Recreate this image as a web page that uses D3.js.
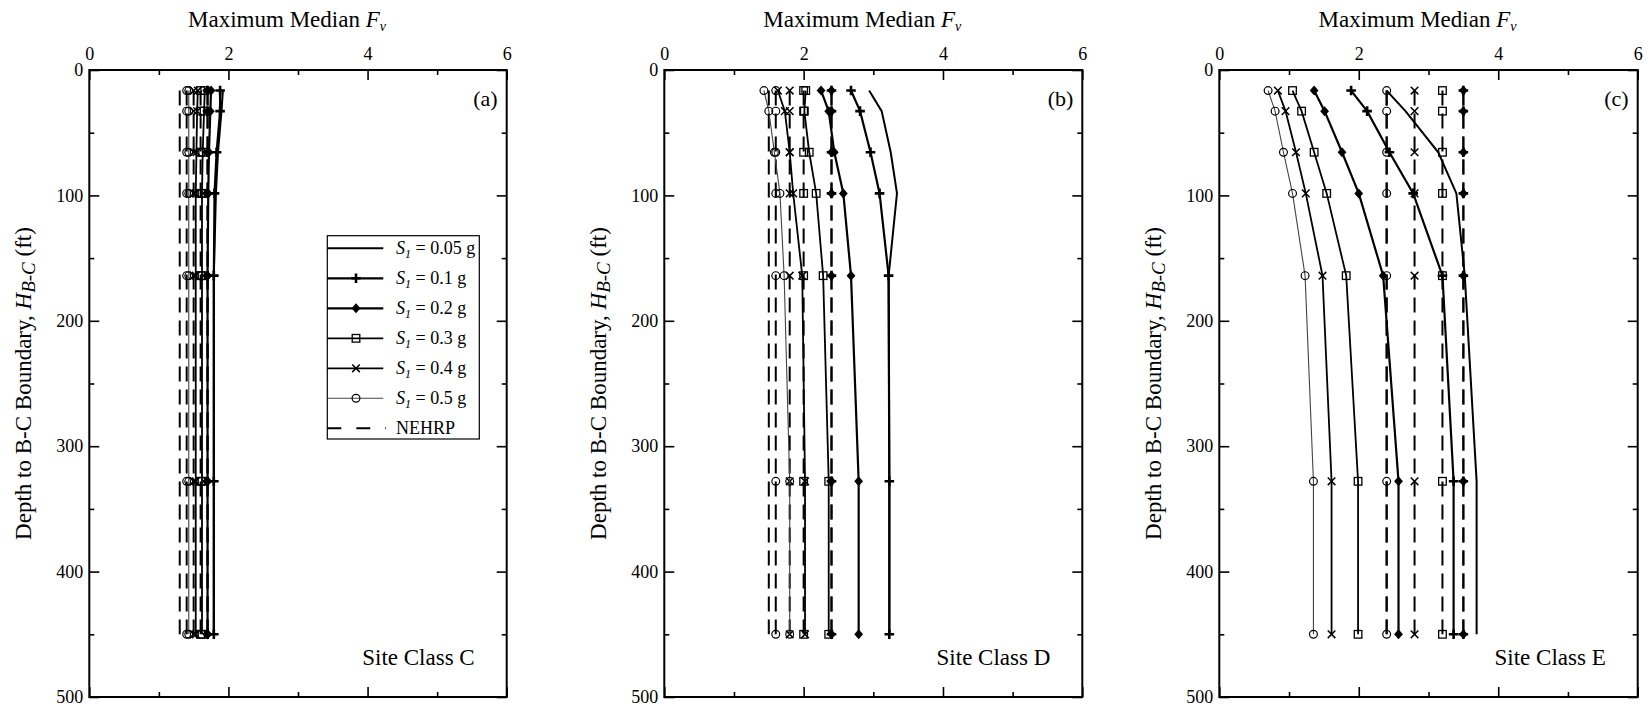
<!DOCTYPE html>
<html><head><meta charset="utf-8">
<script src="https://cdn.jsdelivr.net/npm/d3@7"></script>
<style>
body{margin:0;background:#fff}
svg{display:block}
text{font-family:"Liberation Serif","Times New Roman",serif;fill:#000}
</style>
</head><body>
<svg id="chart" width="1648" height="711"></svg>
<script>
// ---------- data ----------
const depths = [16.4, 32.8, 65.6, 98.4, 164, 328, 450];
const s1Labels = ["0.05", "0.1", "0.2", "0.3", "0.4", "0.5"];
const xTicks = [0, 2, 4, 6];
const xMinorTicks = [1, 3, 5];
const yTicks = [0, 100, 200, 300, 400, 500];
const yMinorTicks = [50, 150, 250, 350, 450];
const panelLetters = ["(a)", "(b)", "(c)"];
const siteClasses = ["Site Class C", "Site Class D", "Site Class E"];

// Site Class C
const fvC_005 = [1.92, 1.90, 1.85, 1.82, 1.79, 1.79, 1.79];
const fvC_01  = [1.88, 1.88, 1.83, 1.80, 1.79, 1.79, 1.79];
const fvC_02  = [1.75, 1.74, 1.72, 1.71, 1.70, 1.70, 1.70];
const fvC_03  = [1.66, 1.65, 1.63, 1.62, 1.62, 1.62, 1.62];
const fvC_04  = [1.56, 1.55, 1.54, 1.53, 1.53, 1.53, 1.53];
const fvC_05  = [1.43, 1.43, 1.43, 1.43, 1.43, 1.43, 1.43];
const nehrpC  = [1.3, 1.7, 1.7, 1.6, 1.5, 1.4];

// Site Class D
const fvD_005 = [2.94, 3.12, 3.25, 3.34, 3.22, 3.23, 3.23];
const fvD_01  = [2.68, 2.81, 2.96, 3.09, 3.22, 3.23, 3.23];
const fvD_02  = [2.25, 2.36, 2.44, 2.57, 2.68, 2.79, 2.79];
const fvD_03  = [2.03, 2.01, 2.08, 2.18, 2.28, 2.36, 2.36];
const fvD_04  = [1.63, 1.73, 1.80, 1.85, 1.98, 2.02, 2.02];
const fvD_05  = [1.43, 1.50, 1.58, 1.66, 1.72, 1.80, 1.80];
const nehrpD  = [1.5, 2.4, 2.4, 2.0, 1.8, 1.6];

// Site Class E
const fvE_005 = [2.40, 2.67, 3.14, 3.40, 3.52, 3.69, 3.69];
const fvE_01  = [1.89, 2.12, 2.44, 2.78, 3.20, 3.36, 3.36];
const fvE_02  = [1.36, 1.51, 1.76, 2.00, 2.35, 2.57, 2.57];
const fvE_03  = [1.05, 1.18, 1.36, 1.54, 1.82, 1.99, 1.99];
const fvE_04  = [0.84, 0.95, 1.10, 1.24, 1.48, 1.61, 1.61];
const fvE_05  = [0.70, 0.80, 0.92, 1.05, 1.23, 1.35, 1.35];
const nehrpE  = [2.4, 3.5, 3.5, 3.2, 2.8, 2.4];

const panelSeries = [
  [fvC_005, fvC_01, fvC_02, fvC_03, fvC_04, fvC_05],
  [fvD_005, fvD_01, fvD_02, fvD_03, fvD_04, fvD_05],
  [fvE_005, fvE_01, fvE_02, fvE_03, fvE_04, fvE_05]
];
const panelNehrp = [nehrpC, nehrpD, nehrpE];

// ---------- layout / styles ----------
const panelX = [[89.3, 506.7], [664.3, 1082.3], [1219.3, 1637.7]];
const yTop = 70, yBot = 697;
const styles = [
  {w: 2.0, c: "#000", m: null},
  {w: 2.2, c: "#000", m: "plus"},
  {w: 2.2, c: "#000", m: "diamond"},
  {w: 1.8, c: "#000", m: "square"},
  {w: 1.8, c: "#000", m: "cross"},
  {w: 1.1, c: "#444", m: "circle"}
];

const svg = d3.select("#chart");

function drawMarker(g, type, cx, cy) {
  if (!type) return;
  const t = `translate(${cx},${cy})`;
  if (type === "plus") {
    g.append("path").attr("transform", t)
      .attr("d", "M-1.3,-4.8h2.6v3.5h3.5v2.6h-3.5v3.5h-2.6v-3.5h-3.5v-2.6h3.5z")
      .attr("fill", "#000");
  } else if (type === "diamond") {
    g.append("path").attr("transform", t)
      .attr("d", "M0,-5L4.4,0L0,5L-4.4,0Z").attr("fill", "#000");
  } else if (type === "square") {
    g.append("rect").attr("transform", t)
      .attr("x", -3.8).attr("y", -3.8).attr("width", 7.6).attr("height", 7.6)
      .attr("fill", "none").attr("stroke", "#000").attr("stroke-width", 1.3);
  } else if (type === "cross") {
    g.append("path").attr("transform", t)
      .attr("d", "M-3.8,-3.8L3.8,3.8M-3.8,3.8L3.8,-3.8")
      .attr("fill", "none").attr("stroke", "#000").attr("stroke-width", 1.5);
  } else if (type === "circle") {
    g.append("circle").attr("transform", t).attr("r", 3.9)
      .attr("fill", "none").attr("stroke", "#000").attr("stroke-width", 1.2);
  }
}

panelX.forEach(([x0, x1], p) => {
  const x = d3.scaleLinear().domain([0, 6]).range([x0, x1]);
  const y = d3.scaleLinear().domain([0, 500]).range([yTop, yBot]);
  const g = svg.append("g");

  // axes
  const styleAxis = sel => {
    sel.select(".domain").remove();
    sel.selectAll("line").attr("stroke", "#000").attr("stroke-width", 1.6);
    sel.selectAll("text").attr("font-size", 18)
      .attr("font-family", '"Liberation Serif","Times New Roman",serif').attr("fill", "#000");
  };
  g.append("g").attr("transform", `translate(0,${yTop})`)
    .call(d3.axisTop(x).tickValues(xTicks).tickSizeInner(-10).tickSizeOuter(0).tickPadding(10.5).tickFormat(d3.format("d")))
    .call(styleAxis);
  g.append("g").attr("transform", `translate(0,${yTop})`)
    .call(d3.axisTop(x).tickValues(xMinorTicks).tickSizeInner(-5).tickSizeOuter(0).tickFormat(""))
    .call(styleAxis);
  g.append("g").attr("transform", `translate(0,${yBot})`)
    .call(d3.axisBottom(x).tickValues(xTicks).tickSizeInner(-10).tickSizeOuter(0).tickFormat(""))
    .call(styleAxis);
  g.append("g").attr("transform", `translate(0,${yBot})`)
    .call(d3.axisBottom(x).tickValues(xMinorTicks).tickSizeInner(-5).tickSizeOuter(0).tickFormat(""))
    .call(styleAxis);
  g.append("g").attr("transform", `translate(${x0},0)`)
    .call(d3.axisLeft(y).tickValues(yTicks).tickSizeInner(-10).tickSizeOuter(0).tickPadding(6).tickFormat(d3.format("d")))
    .call(styleAxis);
  g.append("g").attr("transform", `translate(${x0},0)`)
    .call(d3.axisLeft(y).tickValues(yMinorTicks).tickSizeInner(-5).tickSizeOuter(0).tickFormat(""))
    .call(styleAxis);
  g.append("g").attr("transform", `translate(${x1},0)`)
    .call(d3.axisRight(y).tickValues(yTicks).tickSizeInner(-10).tickSizeOuter(0).tickFormat(""))
    .call(styleAxis);
  g.append("g").attr("transform", `translate(${x1},0)`)
    .call(d3.axisRight(y).tickValues(yMinorTicks).tickSizeInner(-5).tickSizeOuter(0).tickFormat(""))
    .call(styleAxis);

  // frame
  g.append("rect").attr("x", x0).attr("y", yTop).attr("width", x1 - x0).attr("height", yBot - yTop)
    .attr("fill", "none").attr("stroke", "#000").attr("stroke-width", 2);

  // NEHRP dashed lines
  const nehrp = panelNehrp[p];
  nehrp.forEach((v, i) => {
    g.append("line").attr("x1", x(v)).attr("x2", x(v))
      .attr("y1", y(depths[0])).attr("y2", y(depths[depths.length - 1]))
      .attr("stroke", "#000").attr("stroke-width", 2).attr("stroke-dasharray", "15,8");
    depths.forEach(d => drawMarker(g, styles[i].m, x(v), y(d)));
  });

  // solid series
  const line = d3.line().x(d => x(d.v)).y(d => y(d.d));
  panelSeries[p].forEach((vals, i) => {
    const pts = vals.map((v, k) => ({v, d: depths[k]}));
    g.append("path").datum(pts).attr("d", line)
      .attr("fill", "none").attr("stroke", styles[i].c).attr("stroke-width", styles[i].w)
      .attr("stroke-linejoin", "miter");
    pts.forEach(pt => drawMarker(g, styles[i].m, x(pt.v), y(pt.d)));
  });

  // x title
  const cx = (x0 + x1) / 2 - 11;
  const xt = g.append("text").attr("x", cx).attr("y", 27).attr("text-anchor", "middle").attr("font-size", 23);
  xt.append("tspan").text("Maximum Median ");
  xt.append("tspan").attr("font-style", "italic").text("F");
  xt.append("tspan").attr("font-style", "italic").attr("font-size", 14).attr("dy", 4).text("v");

  // y title
  const yt = g.append("text")
    .attr("transform", `translate(${x0 - 58},${(yTop + yBot) / 2}) rotate(-90)`)
    .attr("text-anchor", "middle").attr("font-size", 23);
  yt.append("tspan").text("Depth to B-C Boundary, ");
  yt.append("tspan").attr("font-style", "italic").text("H");
  yt.append("tspan").attr("font-style", "italic").attr("font-size", 19).attr("dy", 4).text("B-C");
  yt.append("tspan").attr("dy", -4).text(" (ft)");

  // panel letter and site class
  g.append("text").attr("x", x1 - 9).attr("y", 106).attr("text-anchor", "end").attr("font-size", 22)
    .text(panelLetters[p]);
  g.append("text").attr("x", x1 - 32).attr("y", 665).attr("text-anchor", "end").attr("font-size", 23)
    .text(siteClasses[p]);

  // legend (panel a only)
  if (p === 0) {
    const lg = g.append("g");
    const bx = 327.3, by = 235.7, bw = 152, bh = 203.3;
    lg.append("rect").attr("x", bx).attr("y", by).attr("width", bw).attr("height", bh)
      .attr("fill", "#fff").attr("stroke", "#000").attr("stroke-width", 1.2);
    s1Labels.forEach((lab, i) => {
      const ly = 248.3 + 30 * i;
      lg.append("line").attr("x1", bx).attr("x2", 383.3).attr("y1", ly).attr("y2", ly)
        .attr("stroke", styles[i].c).attr("stroke-width", styles[i].w);
      drawMarker(lg, styles[i].m, 356, ly);
      const t = lg.append("text").attr("x", 396).attr("y", ly + 6).attr("font-size", 18);
      t.append("tspan").attr("font-style", "italic").text("S");
      t.append("tspan").attr("font-style", "italic").attr("font-size", 12).attr("dy", 4).text("1");
      t.append("tspan").attr("dy", -4).text(" = " + lab + " g");
    });
    const ny = 248.3 + 30 * 6;
    lg.append("line").attr("x1", bx).attr("x2", 386).attr("y1", ny).attr("y2", ny)
      .attr("stroke", "#000").attr("stroke-width", 2).attr("stroke-dasharray", "14,15");
    lg.append("text").attr("x", 396).attr("y", ny + 6).attr("font-size", 18).text("NEHRP");
  }
});
</script>
</body></html>
